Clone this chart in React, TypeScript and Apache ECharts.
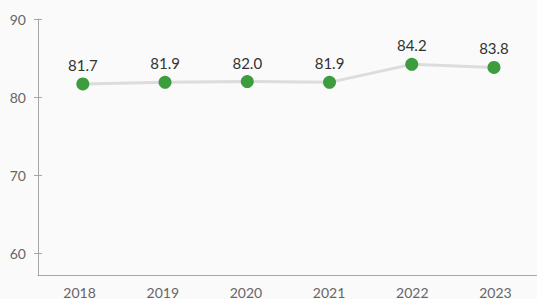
import React, { useEffect, useRef } from "react";
import * as echarts from "echarts";

const years = ["2018", "2019", "2020", "2021", "2022", "2023"];
const values = [81.7, 81.9, 82.0, 81.9, 84.2, 83.8];
const yTicks = [60, 70, 80, 90];

export default function App() {
  const ref = useRef<HTMLDivElement>(null);
  useEffect(() => {
    if (!ref.current) return;
    const chart = echarts.init(ref.current, null, { renderer: "svg" });
    const axisColor = "#a6a6a6";
    const font = "Lato";
    const yMin = 57.2;
    const yMax = 90;
    chart.setOption({
      animation: false,
      backgroundColor: "#fafafa",
      grid: [
        { left: 38, right: -2.5, top: 19, bottom: 23.5, containLabel: false },
        { left: 41.7, right: 1.9, top: 19, bottom: 23.5, containLabel: false },
      ],
      xAxis: [
        {
          type: "category",
          gridIndex: 0,
          data: years,
          boundaryGap: true,
          axisLine: { lineStyle: { color: axisColor, width: 1 } },
          axisTick: { alignWithLabel: true, length: 4, lineStyle: { color: axisColor } },
          axisLabel: { color: "#666", fontSize: 14, fontFamily: font, margin: 10 },
          splitLine: { show: false },
        },
        {
          type: "category",
          gridIndex: 0,
          data: years,
          position: "bottom",
          boundaryGap: true,
          axisLine: { show: false },
          axisTick: { inside: true, alignWithLabel: true, length: 4, lineStyle: { color: axisColor } },
          axisLabel: { show: false },
          splitLine: { show: false },
        },
        {
          type: "category",
          gridIndex: 1,
          data: years,
          boundaryGap: true,
          show: false,
        },
      ],
      yAxis: [
        {
          type: "value",
          gridIndex: 0,
          min: yMin,
          max: yMax,
          axisLine: { show: true, lineStyle: { color: axisColor, width: 1 } },
          axisTick: { show: true, length: 4, customValues: yTicks, lineStyle: { color: axisColor } },
          axisLabel: { color: "#666", fontSize: 14, fontFamily: font, margin: 12, customValues: yTicks },
          splitLine: { show: false },
        },
        {
          type: "value",
          gridIndex: 0,
          min: yMin,
          max: yMax,
          position: "left",
          axisLine: { show: false },
          axisTick: { show: true, inside: true, length: 4, customValues: yTicks, lineStyle: { color: axisColor } },
          axisLabel: { show: false, customValues: yTicks },
          splitLine: { show: false },
        },
        {
          type: "value",
          gridIndex: 1,
          min: yMin,
          max: yMax,
          show: false,
        },
      ],
      series: [
        {
          type: "line",
          xAxisIndex: 2,
          yAxisIndex: 2,
          data: values,
          symbol: "circle",
          symbolSize: 13,
          lineStyle: { color: "#dcdcdc", width: 3 },
          itemStyle: { color: "#3d9c3d" },
          label: {
            show: true,
            position: "top",
            distance: 5,
            color: "#333",
            fontSize: 15,
            fontFamily: font,
            formatter: (p: any) => p.value.toFixed(1),
          },
          z: 3,
        },
      ],
    });
    return () => chart.dispose();
  }, []);
  return (
    <div
      ref={ref}
      style={{ position: "fixed", left: 0, top: 0, width: 537, height: 299, background: "#fafafa" }}
    />
  );
}
